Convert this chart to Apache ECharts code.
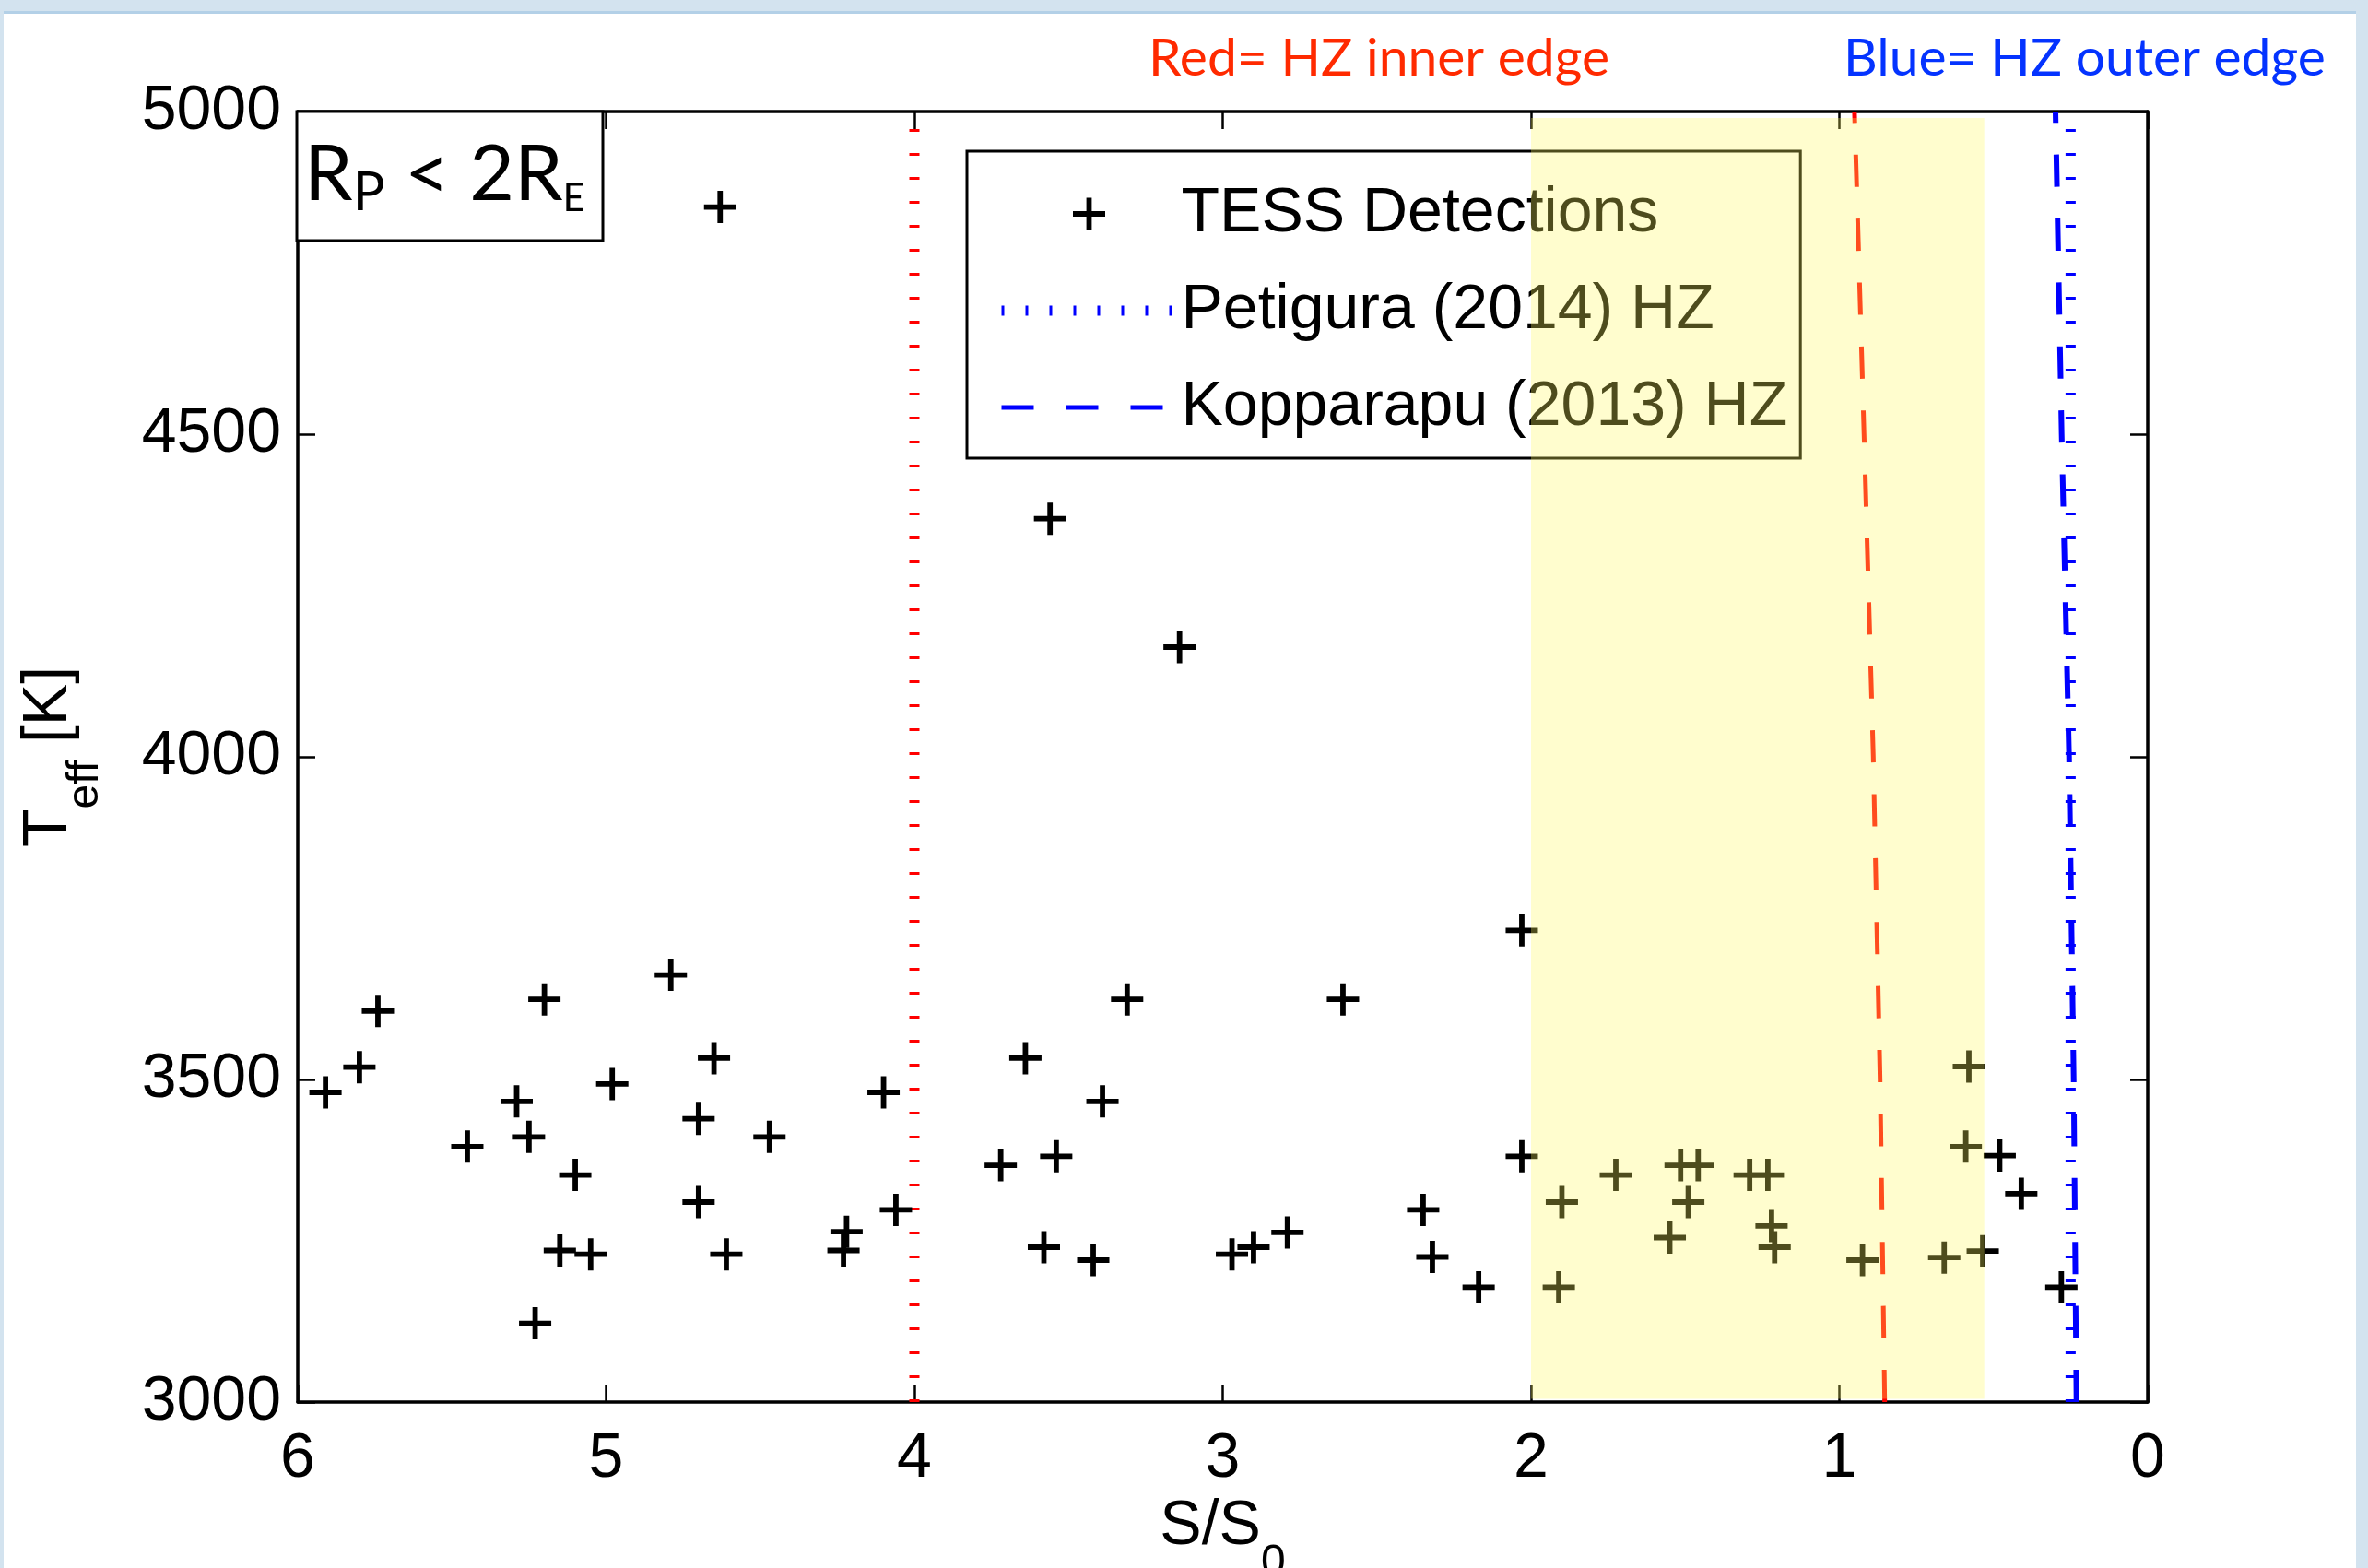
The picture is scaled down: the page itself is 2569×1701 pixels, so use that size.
<!DOCTYPE html>
<html>
<head>
<meta charset="utf-8">
<script src="https://cdn.jsdelivr.net/npm/echarts@6/dist/echarts.min.js"></script>
<style>
  html, body { margin: 0; padding: 0; width: 2569px; height: 1701px; overflow: hidden; background: #D3E3EF; }
  #panel { position: absolute; left: 4px; top: 12px; width: 2552px; height: 1689px; background: #fff; border-top: 3px solid #B3D0E7; }
  #chart { position: absolute; left: 0; top: 0; width: 2569px; height: 1701px; }
</style>
</head>
<body>
<div id="panel"></div>
<div id="chart"></div>
<script>
// ---- data ----
const sFlux = [4.63,3.56,3.14,2.03,4.79,5.74,5.20,3.31,2.61,5.80,5.91,5.29,4.65,4.98,4.10,3.64,3.39,0.58,5.45,5.25,
               4.70,4.47,5.10,4.70,0.59,2.03,3.54,3.72,0.48,0.41,1.725,1.515,1.458,1.291,1.232,1.90,1.49,2.35,4.06,4.22,
               4.23,5.15,5.05,4.61,3.58,3.42,2.97,2.90,2.79,2.32,2.17,1.55,1.22,1.21,0.925,0.66,0.535,1.91,0.28,5.23];
const teffK = [4852,4369,4170,3731,3662,3606,3624,3624,3624,3519,3480,3466,3533,3493,3480,3533,3466,3520,3396,3411,
               3439,3411,3352,3310,3396,3381,3381,3367,3382,3323,3352,3367,3367,3352,3352,3310,3310,3298,3298,3264,
               3235,3235,3229,3229,3240,3220,3229,3240,3263,3225,3178,3255,3273,3240,3220,3224,3234,3178,3178,3122];
const hzTeff = [3000, 3500, 4000, 4500, 5000];
const petiguraInnerS = [4, 4, 4, 4, 4];
const petiguraOuterS = [0.25, 0.25, 0.25, 0.25, 0.25];
const kopparapuInnerS = [0.853, 0.868, 0.89, 0.92, 0.951];
const kopparapuOuterS = [0.231, 0.240, 0.255, 0.279, 0.299];
const hzBandS = [2.0, 0.53];
const hzBandTeff = [3005, 4990];
const legendNames = ['TESS Detections', 'Petigura (2014) HZ', 'Kopparapu (2013) HZ'];

const plusPath = 'path://M14.6,0H20.4V14.6H35V20.4H20.4V35H14.6V20.4H0V14.6H14.6Z';
const FONT = 'Liberation Sans';
const pair = (xs, ys) => xs.map((x, i) => [x, ys[i]]);

const chart = echarts.init(document.getElementById('chart'), null, { renderer: 'canvas' });

const axisLineStyle = { show: true, onZero: false, lineStyle: { color: '#000', width: 3.5 } };
const tickStyle = { show: true, inside: true, length: 19, lineStyle: { color: '#000', width: 2.5 } };
const nameRich = {
  m: { fontFamily: FONT, fontSize: 68, color: '#000', lineHeight: 100, verticalAlign: 'top' },
  s: { fontFamily: FONT, fontSize: 48, color: '#000', lineHeight: 100, verticalAlign: 'top', padding: [50, 0, 0, 0] }
};
const hiddenIcon = { color: 'rgba(0,0,0,0)', opacity: 0, borderWidth: 0 };

const option = {
  animation: false,
  backgroundColor: 'transparent',
  grid: { left: 323, right: 239, top: 121, bottom: 180, containLabel: false, outerBoundsMode: 'none' },
  xAxis: [
    {
      type: 'value', min: 0, max: 6, interval: 1, inverse: true, position: 'bottom',
      axisLine: axisLineStyle, axisTick: tickStyle, splitLine: { show: false },
      axisLabel: { fontFamily: FONT, fontSize: 68, color: '#000', margin: 28 },
      name: '{m|S/S}{s|0}', nameLocation: 'middle', nameGap: 86,
      nameTextStyle: { rich: nameRich }
    },
    {
      type: 'value', min: 0, max: 6, interval: 1, inverse: true, position: 'top',
      axisLine: axisLineStyle, axisTick: tickStyle, splitLine: { show: false },
      axisLabel: { show: false }
    }
  ],
  yAxis: [
    {
      type: 'value', min: 3000, max: 5000, interval: 500, position: 'left',
      axisLine: axisLineStyle, axisTick: tickStyle, splitLine: { show: false },
      axisLabel: { fontFamily: FONT, fontSize: 68, color: '#000', margin: 18, formatter: v => String(v) },
      name: '{m|T}{s|eff}{m| [K]}', nameLocation: 'middle', nameGap: 204,
      nameTextStyle: { rich: nameRich }
    },
    {
      type: 'value', min: 3000, max: 5000, interval: 500, position: 'right',
      axisLine: axisLineStyle, axisTick: tickStyle, splitLine: { show: false },
      axisLabel: { show: false }
    }
  ],
  legend: {
    orient: 'vertical', left: 1049, top: 164,
    padding: [34, 14, 21, 32],
    itemWidth: 190, itemHeight: 35, itemGap: 37,
    borderColor: '#000', borderWidth: 3, backgroundColor: '#fff',
    selectedMode: false,
    textStyle: { fontFamily: FONT, fontSize: 68, color: '#000' },
    data: [
      { name: legendNames[0] },
      { name: legendNames[1], itemStyle: hiddenIcon, lineStyle: { color: '#0000ff', width: 11, type: [3, 23] } },
      { name: legendNames[2], itemStyle: hiddenIcon, lineStyle: { color: '#0000ff', width: 5, type: [35, 35] } }
    ]
  },
  graphic: [
    { type: 'rect', shape: { x: 322, y: 121, width: 332, height: 140 },
      style: { fill: '#fff', stroke: '#000', lineWidth: 3 }, z: 5 },
    { type: 'text', x: 330, y: 147.5, z: 6,
      style: {
        text: '{m|R}{p|P}{m| < 2R}{e|E}',
        verticalAlign: 'top', align: 'left',
        rich: {
          m: { fontFamily: 'Lato', fontSize: 84, color: '#000', lineHeight: 110, verticalAlign: 'top' },
          p: { fontFamily: 'Lato', fontSize: 58, color: '#000', lineHeight: 110, verticalAlign: 'top', padding: [33, 0, 0, 0] },
          e: { fontFamily: 'Lato', fontSize: 42, color: '#000', lineHeight: 110, verticalAlign: 'top', padding: [47, 0, 0, 0] }
        }
      } },
    { type: 'text', x: 1246, y: 64,
      style: { text: 'Red= HZ inner edge', fontFamily: 'Lato', fontSize: 57, fill: '#FF2A00', verticalAlign: 'middle' } },
    { type: 'text', x: 2000, y: 64,
      style: { text: 'Blue= HZ outer edge', fontFamily: 'Lato', fontSize: 57, fill: '#0433FF', verticalAlign: 'middle' } }
  ],
  series: [
    {
      name: legendNames[0], type: 'scatter', z: 3,
      symbol: plusPath, symbolSize: 35, symbolKeepAspect: true,
      itemStyle: { color: '#000', opacity: 1 },
      data: pair(sFlux, teffK)
    },
    {
      name: legendNames[1], type: 'line', z: 3, symbol: 'none', silent: true,
      lineStyle: { color: '#0000ff', width: 11, type: [3, 23] },
      data: pair(petiguraOuterS, hzTeff)
    },
    {
      name: 'Petigura (2014) HZ inner', type: 'line', z: 3, symbol: 'none', silent: true,
      lineStyle: { color: '#ff0000', width: 11, type: [3, 23] },
      data: pair(petiguraInnerS, hzTeff)
    },
    {
      name: legendNames[2], type: 'line', z: 3, symbol: 'none', silent: true,
      lineStyle: { color: '#0000ff', width: 6, type: [35, 34.4] },
      data: pair(kopparapuOuterS, hzTeff)
    },
    {
      name: 'Kopparapu (2013) HZ inner', type: 'line', z: 3, symbol: 'none', silent: true,
      lineStyle: { color: '#ff0000', width: 5, type: [35, 34.4] },
      data: pair(kopparapuInnerS, hzTeff)
    },
    {
      name: 'HZ band', type: 'custom', z: 10, silent: true,
      dimensions: ['s1', 's2', 't1', 't2'],
      encode: { x: [0, 1], y: [2, 3] },
      renderItem: function (params, api) {
        const p1 = api.coord([api.value(0), api.value(2)]);
        const p2 = api.coord([api.value(1), api.value(3)]);
        return {
          type: 'rect',
          shape: {
            x: Math.min(p1[0], p2[0]), y: Math.min(p1[1], p2[1]),
            width: Math.abs(p2[0] - p1[0]), height: Math.abs(p2[1] - p1[1])
          },
          style: { fill: 'rgba(255,248,95,0.305)' }
        };
      },
      data: [[hzBandS[0], hzBandS[1], hzBandTeff[0], hzBandTeff[1]]]
    }
  ]
};
chart.setOption(option);
</script>
</body>
</html>
